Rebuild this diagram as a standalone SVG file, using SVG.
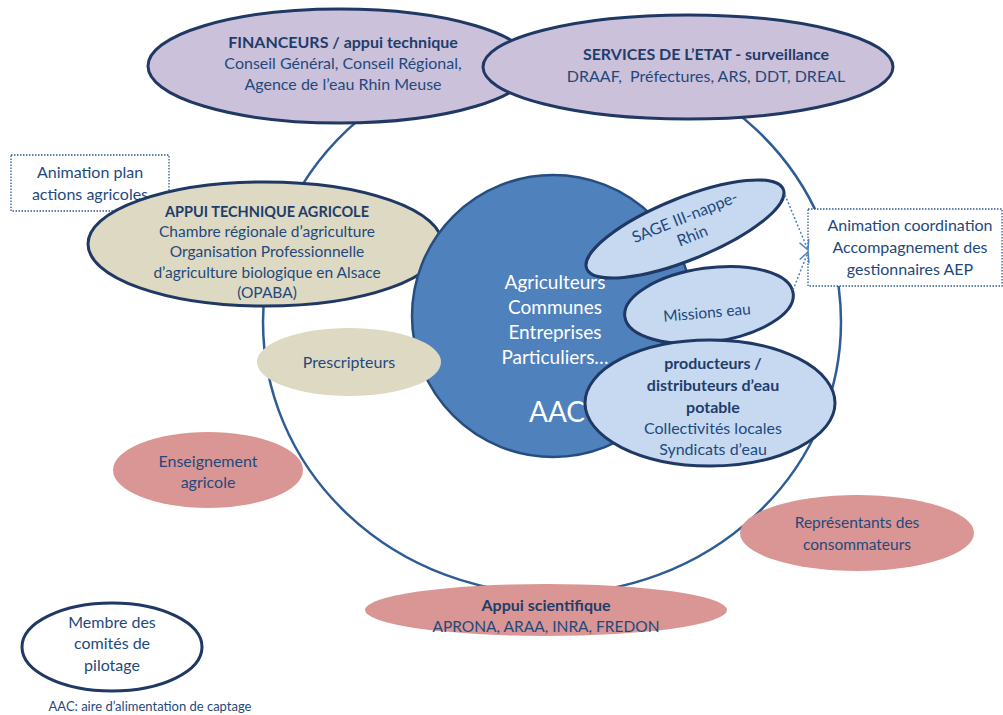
<svg xmlns="http://www.w3.org/2000/svg" width="1003" height="715" viewBox="0 0 1003 715">
<defs>
<style>
text{font-family:Lato,"Open Sans","Liberation Sans",sans-serif;font-size:15.5px;fill:#1f497d;text-anchor:middle}
.b{font-weight:bold;fill:#1f3d6b}
.t16{font-size:16px}
.w{fill:#ffffff;font-size:19px}
.ol{stroke:#1f3864;stroke-width:3}
.lav{fill:#ccc1da}
.bei{fill:#ddd9c3}
.lb{fill:#c6d9f1}
.pink{fill:#d99694}
.dot{fill:#ffffff;stroke:#2e5c94;stroke-width:1.3;stroke-dasharray:1.5 1.5}
.conn{fill:none;stroke:#4f81bd;stroke-width:1.5;stroke-dasharray:2 2}
</style>
<marker id="arr" viewBox="0 0 12 12" refX="11" refY="6" markerWidth="12" markerHeight="12" markerUnits="userSpaceOnUse" orient="auto">
<path d="M1,1 L11,6 L1,11" fill="none" stroke="#4f81bd" stroke-width="1.5"/>
</marker>
</defs>
<rect width="1003" height="715" fill="#ffffff"/>
<ellipse id="big-circle" cx="552" cy="322" rx="289" ry="272" fill="none" stroke="#2e5c94" stroke-width="2.5"/>
<g id="financeurs">
<ellipse class="lav ol" cx="340" cy="66" rx="192" ry="57"/>
<text x="343" y="48" class="b t16">FINANCEURS / appui technique</text>
<text x="343" y="69" class="t16">Conseil Général, Conseil Régional,</text>
<text x="343" y="90" class="t16">Agence de l’eau Rhin Meuse</text>
</g>
<g id="services">
<ellipse class="lav ol" cx="688" cy="67" rx="205" ry="52"/>
<text x="706" y="60" class="b t16">SERVICES DE L’ETAT - surveillance</text>
<text x="706" y="82" class="t16" xml:space="preserve">DRAAF,  Préfectures, ARS, DDT, DREAL</text>
</g>
<g id="animation-plan">
<rect class="dot" x="11" y="155" width="158" height="56"/>
<text x="90" y="178" class="t16">Animation plan</text>
<text x="90" y="200" class="t16">actions agricoles</text>
</g>
<g id="appui-technique">
<ellipse class="bei ol" cx="265" cy="244" rx="177" ry="62"/>
<text x="267" y="217" class="b" style="font-size:14.5px">APPUI TECHNIQUE AGRICOLE</text>
<text x="267" y="237">Chambre régionale d’agriculture</text>
<text x="267" y="257">Organisation Professionnelle</text>
<text x="267" y="278">d’agriculture biologique en Alsace</text>
<text x="267" y="298">(OPABA)</text>
</g>
<g id="aac">
<circle cx="553" cy="316" r="141" fill="#4f81bd" stroke="#254d80" stroke-width="2.5"/>
<text x="555" y="289" class="w">Agriculteurs</text>
<text x="555" y="314" class="w">Communes</text>
<text x="555" y="339" class="w">Entreprises</text>
<text x="555" y="364" class="w">Particuliers…</text>
<text x="557" y="422" class="w" style="font-size:28px">AAC</text>
</g>
<g id="prescripteurs">
<ellipse class="bei" cx="349" cy="362" rx="92" ry="34"/>
<text x="349" y="368" class="t16">Prescripteurs</text>
</g>
<g id="sage">
<ellipse class="lb ol" cx="685" cy="229" rx="106" ry="31" transform="rotate(-22 685 229)"/>
<g transform="translate(688 225) rotate(-22)">
<text x="0" y="-3" class="t16">SAGE III-nappe-</text>
<text x="0" y="17" class="t16">Rhin</text>
</g>
</g>
<g id="missions-eau">
<ellipse class="lb ol" cx="709" cy="305" rx="85" ry="37" transform="rotate(-8 709 305)"/>
<text x="707" y="318" transform="rotate(-5 707 313)">Missions eau</text>
</g>
<g id="producteurs">
<ellipse class="lb ol" cx="710" cy="403" rx="125" ry="63"/>
<text x="713" y="369" class="b t16">producteurs /</text>
<text x="713" y="391" class="b t16">distributeurs d’eau</text>
<text x="713" y="413" class="b t16">potable</text>
<text x="713" y="434" class="t16">Collectivités locales</text>
<text x="713" y="455" class="t16">Syndicats d’eau</text>
</g>
<g id="enseignement">
<ellipse class="pink" cx="208" cy="470" rx="95" ry="38"/>
<text x="208" y="467" class="t16">Enseignement</text>
<text x="208" y="488" class="t16">agricole</text>
</g>
<g id="representants">
<ellipse class="pink" cx="857" cy="533" rx="117" ry="38"/>
<text x="857" y="528">Représentants des</text>
<text x="857" y="550">consommateurs</text>
</g>
<g id="appui-scientifique">
<ellipse class="pink" cx="546" cy="610" rx="181" ry="26"/>
<text x="546" y="611" class="b t16">Appui scientifique</text>
<text x="546" y="632">APRONA, ARAA, INRA, FREDON</text>
</g>
<g id="animation-coordination">
<rect class="dot" x="808" y="209" width="194" height="77"/>
<text x="910" y="231" class="t16">Animation coordination</text>
<text x="910" y="253" class="t16">Accompagnement des</text>
<text x="910" y="275" class="t16">gestionnaires AEP</text>
</g>
<g id="connectors">
<path class="conn" d="M785,195 L808,250" marker-end="url(#arr)"/>
<path class="conn" d="M793,290 L808,252" marker-end="url(#arr)"/>
</g>
<g id="membre">
<ellipse cx="112" cy="647" rx="90" ry="44" fill="#ffffff" class="ol"/>
<text x="112" y="628" class="t16">Membre des</text>
<text x="112" y="649" class="t16">comités de</text>
<text x="112" y="671" class="t16">pilotage</text>
</g>
<text id="legend" x="150" y="711" style="font-size:13px">AAC: aire d’alimentation de captage</text>
</svg>
